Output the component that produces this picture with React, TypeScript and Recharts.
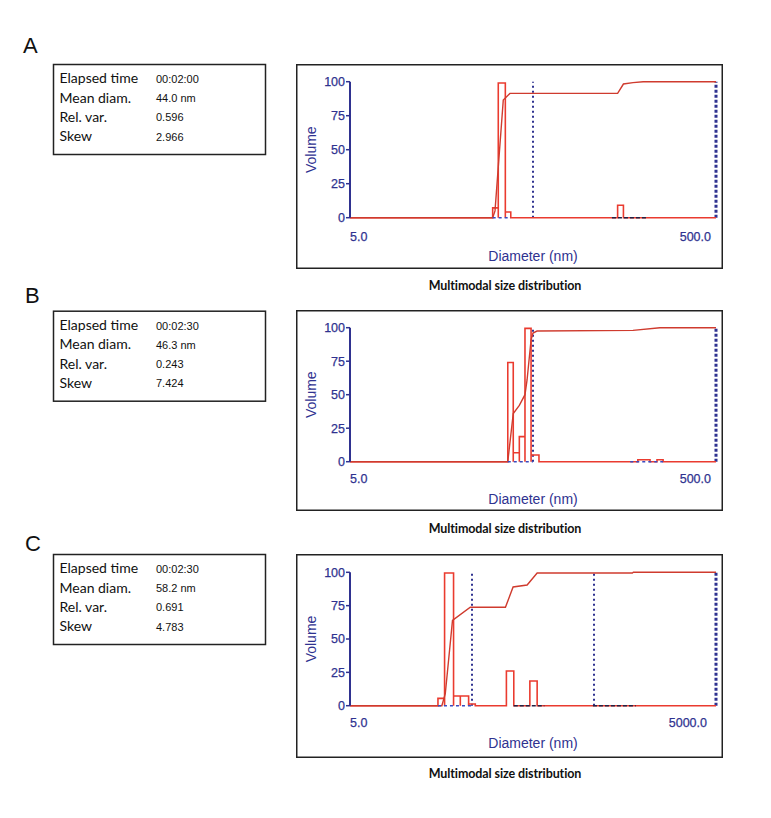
import { LineChart, Line, XAxis, YAxis, ReferenceLine } from "recharts";

const NAVY = "#2f3290";
const RED = "#ea3b2f";
const CUM_RED = "#cf3b2e";

// info boxes
const panelLetters = ["A", "B", "C"];
const infoLabels = ["Elapsed time", "Mean diam.", "Rel. var.", "Skew"];
const elapsed = ["00:02:00", "00:02:30", "00:02:30"];
const meanDiam = ["44.0 nm", "46.3 nm", "58.2 nm"];
const relVar = ["0.596", "0.243", "0.691"];
const skew = ["2.966", "7.424", "4.783"];

// panel A (diameter nm / volume %)
const aBarLeft = [30.1, 32.3, 35.3, 145];
const aBarRight = [32.3, 35.3, 37.8, 156];
const aBarHeight = [7.2, 99, 4.2, 9.1];
const aCumDiam = [5, 30.1, 31.0, 34.4, 37.4, 145, 156, 176, 200, 500];
const aCumVol = [0, 0, 5, 86.5, 91.4, 91.4, 98.3, 99.3, 100, 100];
const aMarkers = [50];
const aBlueSeg = [[30.1, 37.8]];
const aDarkSeg = [[135, 209]];

// panel B
const bBarLeft = [36.4, 39.0, 42.1, 45.2, 48.8, 187, 238];
const bBarRight = [39.0, 42.1, 45.2, 48.8, 53.9, 218, 257];
const bBarHeight = [74, 6.7, 18.7, 99.5, 5, 1.5, 1.5];
const bCumDiam = [5, 36.4, 39.0, 42.1, 45.2, 46.4, 48.8, 50, 52.6, 176, 247, 500];
const bCumVol = [0, 0, 36, 42, 50, 61, 91, 96, 97.5, 98, 100, 100];
const bMarkers = [50];
const bBlueSeg = [[36.4, 50], [170, 257]];
const bDarkSeg: number[][] = [];

// panel C
const cBarLeft = [26.3, 29.8, 35.3, 40.1, 46.9, 95.7, 149];
const cBarRight = [29.8, 35.3, 40.1, 46.9, 53.2, 110, 171];
const cBarHeight = [5.5, 99.5, 7.3, 7.3, 1.3, 26, 18.5];
const cCumDiam = [5, 28.3, 30.2, 34.6, 48.4, 94, 108.6, 141.5, 171, 1032, 1050, 5000];
const cCumVol = [0, 0, 9, 64, 73.8, 73.8, 89, 90.5, 99.5, 99.5, 100, 100];
const cMarkers = [50, 500];
const cBlueSeg = [[26.3, 50]];
const cDarkSeg = [[110, 196], [490, 1099]];

function barOutline(left: number[], right: number[], height: number[], lo: number, hi: number) {
  const pts = [{ d: lo, v: 0 }];
  left.forEach((l, i) => {
    pts.push({ d: l, v: 0 }, { d: l, v: height[i] }, { d: right[i], v: height[i] }, { d: right[i], v: 0 });
  });
  pts.push({ d: hi, v: 0 });
  return pts;
}

function cumLine(diam: number[], vol: number[]) {
  return diam.map((d, i) => ({ d, v: vol[i] }));
}

const panels = [
  {
    top: 64, bottom: 269, plotTop: 81.7, plotBottom: 217.7, tickOff: 18.3, labelY: 255.7, titleY: 285.7, infoTop: 64,
    max: 500, bars: barOutline(aBarLeft, aBarRight, aBarHeight, 5, 500), cum: cumLine(aCumDiam, aCumVol),
    markers: aMarkers, blue: aBlueSeg, dark: aDarkSeg,
  },
  {
    top: 310, bottom: 511, plotTop: 327.7, plotBottom: 461.7, tickOff: 16.6, labelY: 499.3, titleY: 529, infoTop: 310.7,
    max: 500, bars: barOutline(bBarLeft, bBarRight, bBarHeight, 5, 500), cum: cumLine(bCumDiam, bCumVol),
    markers: bMarkers, blue: bBlueSeg, dark: bDarkSeg,
  },
  {
    top: 554, bottom: 758, plotTop: 572.3, plotBottom: 705.7, tickOff: 17, labelY: 742.7, titleY: 774, infoTop: 554,
    max: 5000, bars: barOutline(cBarLeft, cBarRight, cBarHeight, 5, 5000), cum: cumLine(cCumDiam, cCumVol),
    markers: cMarkers, blue: cBlueSeg, dark: cDarkSeg,
  },
];

const letterPos = [{ x: 23, y: 52.7 }, { x: 25, y: 302.7 }, { x: 25, y: 550.7 }];

const BOX_LEFT = 296;
const BOX_RIGHT = 723;
const PLOT_LEFT = 350;
const PLOT_RIGHT = 716;

function Panel({ p }: { p: (typeof panels)[number] }) {
  const W = BOX_RIGHT - BOX_LEFT;
  const H = p.bottom - p.top;
  const xAxisH = 2 * (p.labelY - p.plotBottom);
  const yAxisW = 2 * (PLOT_LEFT - 311);
  const renderTick = (props: any) => {
    const { x, y, payload } = props;
    return (
      <text
        x={x}
        y={y + p.tickOff + 4.6}
        textAnchor={payload.value === 5 ? "start" : "end"}
        fill={NAVY}
        stroke={NAVY}
        strokeWidth={0.25}
        fontSize={12.5}
      >
        {Number(payload.value).toFixed(1)}
      </text>
    );
  };
  return (
    <div style={{ position: "absolute", left: BOX_LEFT, top: p.top, fontFamily: "'Liberation Sans', Arial, sans-serif" }}>
      <LineChart
        width={W}
        height={H}
        margin={{
          top: p.plotTop - p.top,
          right: BOX_RIGHT - PLOT_RIGHT,
          bottom: p.bottom - p.plotBottom - xAxisH,
          left: PLOT_LEFT - BOX_LEFT - yAxisW,
        }}
      >
        <XAxis
          type="number"
          dataKey="d"
          scale="log"
          domain={[5, p.max]}
          ticks={[5, p.max]}
          allowDataOverflow
          axisLine={false}
          tickLine={false}
          tickSize={0}
          tickMargin={0}
          height={xAxisH}
          tick={renderTick}
          label={{ value: "Diameter (nm)", position: "center", fill: NAVY, fontSize: 14 }}
        />
        <YAxis
          type="number"
          domain={[0, 100]}
          ticks={[0, 25, 50, 75, 100]}
          width={yAxisW}
          axisLine={{ stroke: NAVY, strokeWidth: 2 }}
          tickLine={{ stroke: NAVY, strokeWidth: 1.5 }}
          tickSize={4}
          tickMargin={1}
          tick={{ fill: NAVY, stroke: NAVY, strokeWidth: 0.25, fontSize: 12.5 }}
          label={{ value: "Volume", angle: -90, position: "center", fill: NAVY, fontSize: 14 }}
        />
        {p.markers.map((m) => (
          <ReferenceLine key={m} x={m} stroke={NAVY} strokeWidth={2} strokeDasharray="2 3" />
        ))}
        <ReferenceLine x={p.max} stroke={NAVY} strokeWidth={3} strokeDasharray="3 2" />
        <Line data={p.bars} dataKey="v" type="linear" stroke={RED} strokeWidth={1.6} dot={false} isAnimationActive={false} />
        <Line data={p.cum} dataKey="v" type="linear" stroke={CUM_RED} strokeWidth={1.4} dot={false} isAnimationActive={false} />
        {p.blue.map((s, i) => (
          <ReferenceLine key={"b" + i} segment={[{ x: s[0], y: 0 }, { x: s[1], y: 0 }]} stroke="#3a4bbf" strokeWidth={1.5} strokeDasharray="3 3" />
        ))}
        {p.dark.map((s, i) => (
          <ReferenceLine key={"k" + i} segment={[{ x: s[0], y: 0 }, { x: s[1], y: 0 }]} stroke="#222244" strokeWidth={1.5} strokeDasharray="4 2" />
        ))}
      </LineChart>
    </div>
  );
}

export default function App() {
  return (
    <div style={{ position: "relative", width: 771, height: 818, margin: -8, background: "#fff" }}>
      <svg width={771} height={818} style={{ position: "absolute", left: 0, top: 0 }}>
        {panels.map((p, i) => (
          <g key={i}>
            <text x={letterPos[i].x} y={letterPos[i].y} fontFamily="'Liberation Sans', Arial, sans-serif" fontSize={22} fill="#111">
              {panelLetters[i]}
            </text>
            <rect x={53.5} y={p.infoTop + 0.5} width={212} height={90} fill="none" stroke="#222" strokeWidth={1.5} />
            {infoLabels.map((lab, j) => (
              <g key={j}>
                <text x={59.5} y={p.infoTop + 19.3 + j * 19.3} fontFamily="Lato, 'Open Sans', sans-serif" fontSize={14} fill="#111">
                  {lab}
                </text>
                <text x={156} y={p.infoTop + 18.8 + j * 19.3} fontFamily="'Liberation Sans', Arial, sans-serif" fontSize={11} fill="#111">
                  {[elapsed, meanDiam, relVar, skew][j][i]}
                </text>
              </g>
            ))}
            <rect x={BOX_LEFT + 0.75} y={p.top + 0.75} width={BOX_RIGHT - BOX_LEFT - 1.5} height={p.bottom - p.top - 1.5} fill="none" stroke="#222" strokeWidth={1.5} />
            <text x={505} y={p.titleY + 4} textAnchor="middle" fontFamily="Lato, 'Open Sans', sans-serif" fontWeight="bold" fontSize={12.5} letterSpacing={-0.1} fill="#111">
              Multimodal size distribution
            </text>
          </g>
        ))}
      </svg>
      {panels.map((p, i) => (
        <Panel key={i} p={p} />
      ))}
    </div>
  );
}
